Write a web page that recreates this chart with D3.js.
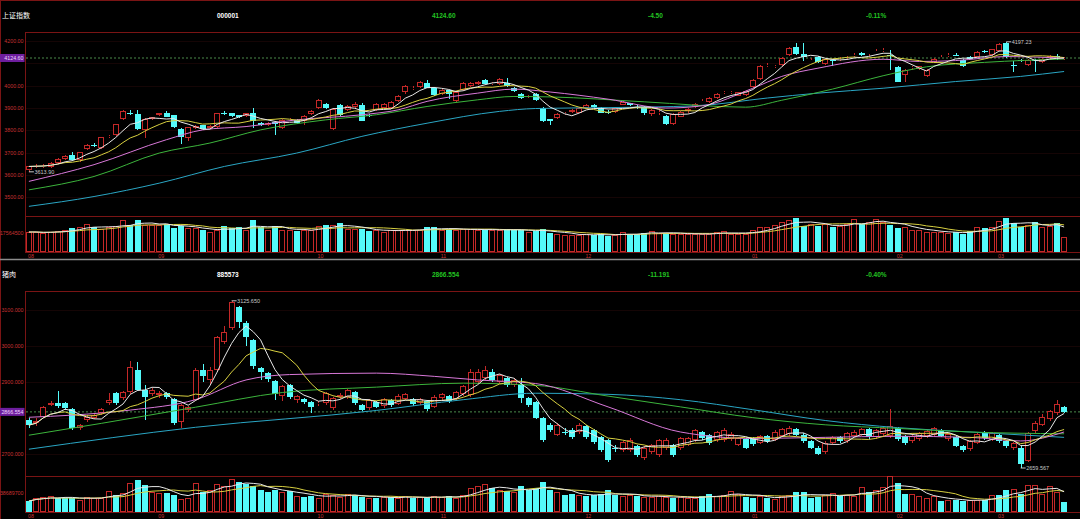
<!DOCTYPE html>
<html><head><meta charset="utf-8">
<script src="https://cdn.jsdelivr.net/npm/d3@7"></script>
<style>body{margin:0;background:#000}svg{display:block}</style>
</head><body>
<svg id="c" width="1080" height="519"></svg>
<script>
// ---------- header texts ----------
const topInfo = ["上证指数", "000001", "4124.60", "-4.50", "-0.11%"];
const botInfo = ["猪肉", "885573", "2866.554", "-11.191", "-0.40%"];
// ---------- month axis ----------
const monthLabels = ["08", "09", "10", "11", "12", "01", "02", "03"];
const monthStarts = [0, 18, 40, 57, 77, 100, 120, 134];
// ---------- price ticks ----------
const topTicks = [3500, 3600, 3700, 3800, 3900, 4000, 4100, 4200];
const botTicks = [2700, 2800, 2900, 3000, 3100];
const topVolTick = 17564500;
const botVolTick = 38689700;

// ---------- 上证指数 OHLC [open, high, low, close] ----------
const topOHLC = [
[3623,3640,3613.9,3638],[3638,3648,3630,3640],[3640,3650,3632,3642],[3635,3658,3630,3653],[3653,3675,3648,3671],
[3671,3690,3666,3687],[3690,3705,3664,3668],[3665,3703,3660,3701],[3716,3740,3712,3735],[3736,3745,3725,3734],
[3720,3772,3715,3770],[3770,3780,3765,3773],[3779,3830,3776,3828],[3850,3890,3845,3888],[3878,3890,3868,3876],
[3873,3891,3800,3806],[3800,3855,3765,3850],[3850,3862,3846,3859],[3870,3880,3866,3877],[3880,3885,3858,3862],
[3867,3870,3812,3817],[3808,3812,3740,3770],[3765,3815,3750,3813],[3810,3822,3805,3818],[3822,3826,3802,3808],
[3812,3825,3808,3818],[3817,3880,3812,3877],[3878,3885,3870,3876],[3877,3880,3862,3865],[3867,3870,3855,3862],
[3865,3880,3860,3877],[3877,3900,3810,3840],[3832,3838,3818,3823],[3823,3836,3818,3832],[3837,3840,3780,3828],
[3810,3850,3805,3847],[3848,3856,3842,3850],[3847,3850,3828,3832],[3844,3868,3825,3865],[3874,3892,3870,3888],
[3900,3940,3898,3937],[3919,3922,3896,3900],[3805,3900,3800,3897],[3915,3920,3866,3870],[3892,3915,3888,3910],
[3904,3928,3900,3919],[3915,3922,3840,3844],[3870,3875,3862,3868],[3892,3922,3888,3919],[3900,3922,3896,3919],
[3900,3932,3896,3928],[3930,3958,3925,3955],[3970,4005,3965,4001],[3987,3998,3980,3990],[3994,4022,3990,4019],
[4012,4025,3988,3992],[3990,3993,3955,3960],[3964,3986,3960,3982],[3979,3982,3940,3964],[3930,3975,3926,3971],
[3982,4015,3978,4012],[3997,4015,3993,4012],[4007,4022,4004,4019],[4027,4030,4006,4009],[4006,4018,4002,4012],
[4009,4033,4005,4030],[4012,4035,3994,3997],[3990,3993,3970,3977],[3964,3967,3940,3945],[3948,3958,3945,3955],
[3964,3967,3933,3937],[3900,3905,3836,3840],[3850,3852,3822,3844],[3855,3878,3850,3874],[3874,3884,3868,3877],
[3882,3897,3878,3892],[3880,3904,3876,3900],[3900,3920,3896,3915],[3912,3916,3900,3905],[3900,3903,3876,3880],
[3882,3890,3872,3880],[3882,3904,3878,3900],[3915,3930,3912,3927],[3921,3924,3910,3915],[3905,3912,3896,3903],
[3904,3907,3870,3879],[3874,3895,3865,3892],[3880,3890,3868,3883],[3865,3868,3824,3828],[3828,3878,3824,3874],
[3862,3885,3858,3882],[3885,3900,3880,3897],[3904,3922,3900,3919],[3930,3940,3925,3933],[3925,3948,3922,3945],
[3945,3966,3942,3962],[3968,3978,3962,3970],[3968,3978,3962,3971],[3955,3974,3952,3970],[3960,3980,3956,3977],
[3994,4030,3990,4027],[4031,4093,4028,4090],[4092,4102,4086,4094],[4086,4095,4080,4088],[4091,4127,4088,4124],
[4139,4172,4135,4169],[4173,4191,4140,4143],[4142,4194,4109,4131],[4115,4125,4110,4117],[4131,4134,4100,4106],
[4097,4124,4094,4121],[4117,4122,4090,4115],[4118,4127,4112,4120],[4126,4134,4120,4128],[4137,4146,4130,4139],
[4149,4152,4132,4136],[4133,4142,4127,4135],[4156,4166,4150,4158],[4159,4170,4152,4161],[4140,4161,4072,4138],
[4082,4090,4015,4019],[4049,4075,4015,4072],[4078,4090,4072,4082],[4075,4090,4070,4087],[4046,4075,4040,4072],
[4106,4124,4102,4121],[4129,4138,4124,4131],[4137,4146,4130,4139],[4140,4146,4132,4138],[4116,4119,4086,4090],
[4131,4134,4118,4121],[4131,4154,4128,4151],[4155,4160,4148,4153],[4139,4167,4135,4164],[4158,4191,4155,4188],
[4191,4197.23,4125,4128],[4095,4109,4064,4093],[4117,4122,4108,4115],[4094,4119,4090,4116],[4117,4120,4060,4115],
[4106,4124,4102,4121],[4124,4137,4120,4134],[4134,4142,4116,4129.1],[4120,4128,4116,4124.6]
];
// volume (万)
const topVol = [
1849,1849,1756,1849,1941,2034,2219,2311,2589,2311,2126,2311,2404,2958,2496,2958,2496,2496,2496,2589,
2219,2404,2219,2219,2034,1849,2034,2404,2219,2311,2034,2958,2311,2034,2404,2034,2034,1941,2034,2034,
2404,2496,2496,2681,2126,2126,2126,1941,2034,1849,2034,2034,2034,2034,2034,2311,2311,2034,2126,2034,
2126,2126,2034,2034,2034,2034,2126,2034,2034,1849,1941,2126,1756,1664,1572,1572,1572,1664,1572,1664,
1479,1572,1849,1664,1664,1756,1941,1756,1756,1664,1664,1664,1664,1664,1664,1849,1941,1664,1664,1664,
2034,2311,2311,2496,2774,2958,3143,2404,2589,2404,2589,2311,2404,2589,3051,2589,2774,3051,2774,2496,
2219,2311,2034,2034,1849,1849,1849,1756,1849,1664,1941,2311,2219,2311,2866,3143,2681,2311,2496,2774,
2311,2404,2681,1387
];
// slower moving averages: [bar index, value]
const topMA20 = [[0,3571],[9,3646],[19,3758],[24,3802],[30,3817],[37,3847],[46,3870],[51,3892],[55,3930],[62,3967],[67,3985],[72,3972],[80,3940],[88,3900],[93,3910],[100,3989],[104,4042],[109,4079],[118,4119],[123,4109],[128,4113],[135,4131],[143,4124]];
const topMA60 = [[0,3533],[9,3593],[18,3698],[25,3743],[32,3802],[41,3847],[48,3870],[55,3907],[62,3937],[67,3952],[72,3950],[85,3928],[99,3904],[104,3935],[111,3985],[118,4045],[124,4085],[132,4105],[143,4120]];
const topMA120 = [[0,3459],[9,3503],[18,3563],[27,3638],[37,3698],[46,3773],[55,3832],[65,3885],[70,3898],[80,3902],[92,3910],[102,3945],[109,3967],[118,3989],[128,4019],[137,4042],[143,4064]];

// ---------- 猪肉 OHLC ----------
const botOHLC = [
[2793,2800,2770,2779],[2785,2800,2778,2790],[2801,2832,2798,2829],[2836,2845,2832,2840],[2840,2875,2828,2832],
[2840,2843,2822,2826],[2823,2826,2765,2770],[2770,2782,2765,2779],[2792,2806,2788,2801],[2798,2810,2795,2807],
[2812,2826,2808,2823],[2840,2870,2836,2849],[2868,2872,2836,2840],[2854,2874,2850,2871],[2871,2958,2866,2941],
[2932,2955,2873,2877],[2877,2891,2793,2857],[2866,2882,2860,2877],[2862,2874,2855,2868],[2868,2872,2852,2857],
[2851,2855,2780,2784],[2787,2838,2770,2835],[2821,2832,2815,2829],[2849,2938,2845,2932],[2932,2950,2900,2916],
[2905,2940,2895,2932],[2932,3028,2928,3025],[3011,3055,3005,3039],[3050,3125.65,3045,3122],[3108,3112,3050,3066],
[3064,3070,3000,3025],[3016,3020,2935,2944],[2938,2941,2905,2927],[2924,2927,2900,2907],[2902,2905,2850,2865],
[2860,2892,2845,2888],[2891,2895,2852,2857],[2849,2863,2840,2860],[2851,2855,2838,2843],[2843,2846,2812,2829],
[2838,2846,2832,2840],[2840,2872,2836,2868],[2826,2858,2820,2854],[2858,2868,2852,2863],[2857,2880,2852,2877],
[2871,2874,2836,2840],[2835,2838,2818,2821],[2826,2852,2822,2849],[2843,2846,2826,2830],[2832,2856,2828,2852],
[2849,2852,2830,2835],[2838,2866,2835,2860],[2852,2868,2848,2865],[2852,2855,2832,2838],[2840,2855,2836,2852],
[2846,2850,2818,2824],[2830,2862,2826,2858],[2855,2870,2850,2866],[2860,2864,2840,2846],[2852,2875,2848,2871],
[2866,2892,2860,2888],[2863,2935,2858,2927],[2899,2935,2895,2927],[2910,2945,2905,2932],[2927,2935,2900,2904],
[2899,2922,2895,2918],[2910,2914,2886,2891],[2891,2910,2886,2904],[2891,2910,2840,2854],[2854,2858,2830,2835],
[2843,2846,2795,2798],[2798,2801,2733,2737],[2779,2785,2760,2765],[2751,2784,2748,2779],[2761,2770,2752,2759],
[2765,2770,2740,2745],[2759,2784,2755,2779],[2776,2780,2740,2745],[2765,2768,2726,2731],[2745,2748,2705,2709],
[2737,2740,2676,2681],[2716,2725,2705,2715],[2709,2736,2705,2731],[2709,2742,2705,2737],[2720,2724,2690,2695],
[2687,2720,2683,2715],[2703,2727,2699,2723],[2695,2741,2690,2737],[2715,2742,2711,2737],[2723,2727,2690,2695],
[2715,2746,2711,2742],[2723,2747,2720,2742],[2737,2769,2733,2765],[2759,2763,2738,2742],[2751,2755,2725,2729],
[2737,2762,2733,2759],[2737,2770,2733,2765],[2740,2760,2736,2754],[2723,2746,2720,2742],[2740,2744,2712,2715],
[2742,2746,2722,2726],[2730,2752,2726,2748],[2748,2751,2730,2734],[2738,2765,2734,2760],[2750,2772,2746,2768],
[2755,2776,2750,2772],[2768,2772,2748,2752],[2752,2756,2730,2735],[2735,2738,2712,2716],[2716,2720,2695,2700],
[2705,2735,2700,2730],[2728,2750,2724,2746],[2746,2750,2730,2734],[2734,2760,2730,2756],[2750,2765,2746,2761],
[2752,2772,2748,2768],[2768,2772,2740,2745],[2745,2768,2740,2765],[2755,2775,2750,2770],[2748,2825,2744,2776],
[2770,2775,2735,2740],[2748,2752,2725,2730],[2735,2755,2730,2750],[2740,2760,2736,2756],[2748,2765,2744,2762],
[2752,2774,2748,2770],[2765,2768,2745,2750],[2740,2758,2735,2755],[2745,2748,2718,2722],[2722,2725,2705,2710],
[2712,2738,2708,2734],[2730,2758,2726,2754],[2758,2762,2738,2742],[2738,2760,2734,2756],[2752,2755,2730,2735],
[2735,2738,2715,2720],[2715,2732,2710,2728],[2716,2720,2659.567,2672],[2680,2760,2675,2756],[2762,2790,2758,2784],
[2780,2810,2776,2802],[2795,2822,2790,2818],[2812,2848,2808,2838],[2830,2832,2812,2816]
];
const botVol = [
2240,2851,3054,3258,2851,2851,2851,2444,3054,2851,2851,4276,3461,3869,5905,6516,5498,4073,3869,3869,
3461,2647,2851,5905,4073,4480,5702,5294,6720,6109,5702,5294,4480,4073,4480,4073,4276,3258,3054,3258,
2851,3665,3461,3054,3665,3461,3054,2851,2851,3054,3054,2851,3258,2851,3054,2851,3258,3054,3258,2851,
3461,4887,5294,5702,4887,4480,4276,4073,5294,4480,4887,6109,4480,4073,3461,3665,3461,3258,3461,3665,
4480,3461,3258,3461,3258,3054,3054,3258,3054,2851,3054,2851,2851,3258,3665,3258,3461,4276,3665,3054,
2851,3258,2851,2647,3258,3461,4073,4073,2851,3054,3461,3869,3258,3461,3258,5091,4073,4480,5091,7330,
5905,3665,3665,3258,2851,3258,2240,2444,2444,2240,2444,2444,2444,3461,3461,4480,4683,3665,5498,5498,
3665,5294,4073,2036
];
const botMA20 = [[0,2801],[6,2807],[14,2821],[23,2850],[30,2905],[36,2920],[48,2924],[56,2915],[62,2905],[70,2895],[80,2830],[90,2760],[100,2742],[110,2745],[120,2748],[130,2745],[137,2735],[143,2760]];
const botMA60 = [[0,2751],[10,2784],[23,2829],[35,2870],[48,2885],[60,2896],[70,2890],[80,2860],[90,2830],[100,2800],[110,2780],[120,2770],[130,2760],[143,2755]];
const botMA120 = [[0,2712],[23,2773],[48,2820],[60,2850],[70,2868],[80,2865],[90,2850],[100,2822],[110,2792],[120,2772],[130,2760],[143,2745]];

// ---------- drawing ----------
const W = 1080, H = 519, N = topOHLC.length;
const RED = "#c42828", CYAN = "#54fafa", FRAME = "#7a1414";
const FONT = "'Liberation Sans', Arial, sans-serif";
const svg = d3.select("#c");
svg.append("rect").attr("width", W).attr("height", H).attr("fill", "#000");

const x = d3.scaleBand().domain(d3.range(N)).range([26, 1067]).paddingInner(0.2);
const cx = i => x(i) + x.bandwidth() / 2;
const ma = (arr, n) => arr.map((_, i) => d3.mean(arr.slice(Math.max(0, i - n + 1), i + 1)));

svg.append("line").attr("x1", 0).attr("x2", W).attr("y1", 0.5).attr("y2", 0.5).attr("stroke", FRAME);
svg.append("line").attr("x1", 0.5).attr("x2", 0.5).attr("y1", 0).attr("y2", H).attr("stroke", FRAME);
svg.append("line").attr("x1", 0).attr("x2", W).attr("y1", 259.5).attr("y2", 259.5).attr("stroke", "#8c8c8c").attr("stroke-width", 1.5);

function panel(cfg) {
  const g = svg.append("g");
  const {ohlc, vol, info, ticks, dec, volTick, yP, yV, top, mid, bot, titleY, monthY, ma20, ma60, ma120} = cfg;
  // header
  const head = g.append("g").attr("font-family", FONT);
  head.append("text").attr("x", 2).attr("y", titleY + 3).attr("fill", "#fff")
    .attr("font-family", "'Noto Sans CJK SC', sans-serif").attr("font-size", 7).text(info[0]);
  head.append("text").attr("x", 217).attr("y", titleY + 2.5).attr("fill", "#fff").attr("font-weight", "bold")
    .attr("font-size", 6.5).text(info[1]);
  [[432, info[2]], [648, info[3]], [866, info[4]]].forEach(([xx, t]) =>
    head.append("text").attr("x", xx).attr("y", titleY + 2.5).attr("fill", "#22c322").attr("font-size", 6.5)
      .attr("font-weight", "bold").text(t));
  // frame
  const fr = g.append("g").attr("stroke", FRAME).attr("shape-rendering", "crispEdges");
  [top, mid, bot].forEach(yy => fr.append("line").attr("x1", 25).attr("x2", W).attr("y1", yy + 0.5).attr("y2", yy + 0.5));
  fr.append("line").attr("x1", 25.5).attr("x2", 25.5).attr("y1", top).attr("y2", bot);
  // faint grid
  ticks.forEach(t => g.append("line").attr("x1", 26).attr("x2", W).attr("y1", Math.round(yP(t)) + 0.5)
    .attr("y2", Math.round(yP(t)) + 0.5).attr("stroke", "#150505"));
  // last price dashed line + label
  const last = ohlc[ohlc.length - 1][3];
  const ly = yP(last);
  g.append("line").attr("x1", 26).attr("x2", W).attr("y1", ly).attr("y2", ly)
    .attr("stroke", "#4a8a4a").attr("stroke-dasharray", "2,2");
  // ticks
  const tk = g.append("g").attr("font-family", FONT).attr("font-size", 5.3)
    .attr("fill", "#c83232").attr("text-anchor", "end");
  ticks.filter(t => Math.abs(yP(t) - ly) > 8).forEach(t =>
    tk.append("text").attr("x", 23.5).attr("y", yP(t) + 2).text(t.toFixed(dec)));
  g.append("rect").attr("x", 0).attr("y", ly - 4).attr("width", 24.5).attr("height", 8).attr("fill", "#6e1e9e");
  g.append("text").attr("x", 23.5).attr("y", ly + 2).attr("text-anchor", "end").attr("fill", "#ecd8ff")
    .attr("font-family", FONT).attr("font-size", 5.3).text(info[2]);
  tk.append("text").attr("x", 23.5).attr("y", yV(volTick) + 2).text(volTick);
  // months
  monthStarts.forEach((s, k) => tk.append("text").attr("text-anchor", "start").attr("x", x(s) + 2)
    .attr("y", monthY + 2).text(monthLabels[k]));
  // candles and volume bars
  const cg = g.append("g").attr("shape-rendering", "crispEdges");
  ohlc.forEach((d, i) => {
    const [o, h, l, c] = d;
    const up = c >= o;
    const col = up ? RED : CYAN;
    const xl = Math.round(x(i)) + 0.5, w = Math.round(x.bandwidth()) - 1, xm = Math.round(cx(i)) + 0.5;
    const yt = Math.round(yP(Math.max(o, c))), yb = Math.max(yt + 1, Math.round(yP(Math.min(o, c))));
    cg.append("line").attr("x1", xm).attr("x2", xm).attr("y1", yP(h)).attr("y2", yt).attr("stroke", col);
    cg.append("line").attr("x1", xm).attr("x2", xm).attr("y1", yb).attr("y2", yP(l)).attr("stroke", col);
    if (up) cg.append("rect").attr("x", xl).attr("y", yt + 0.5).attr("width", w).attr("height", Math.max(0, yb - yt - 1))
      .attr("fill", "#000").attr("stroke", col);
    else cg.append("rect").attr("x", xl - 0.5).attr("y", yt).attr("width", w + 1).attr("height", Math.max(1, yb - yt))
      .attr("fill", col);
    const vt = Math.round(yV(vol[i]));
    if (up) cg.append("rect").attr("x", xl).attr("y", vt + 0.5).attr("width", w).attr("height", bot - vt - 1)
      .attr("fill", "#000").attr("stroke", col);
    else cg.append("rect").attr("x", xl - 0.5).attr("y", vt).attr("width", w + 1).attr("height", bot - vt).attr("fill", col);
  });
  // moving averages
  const closes = ohlc.map(d => d[3]);
  const lineIdx = d3.line().x((d, i) => cx(i)).y(d => yP(d));
  const linePts = d3.line().x(d => cx(d[0])).y(d => yP(d[1])).curve(d3.curveMonotoneX);
  const lg = g.append("g").attr("fill", "none").attr("stroke-width", 1);
  lg.append("path").attr("d", linePts(ma120)).attr("stroke", "#2aa6c4");
  lg.append("path").attr("d", linePts(ma60)).attr("stroke", "#3cb43c");
  lg.append("path").attr("d", linePts(ma20)).attr("stroke", "#d878d8");
  lg.append("path").attr("d", lineIdx(ma(closes, 10))).attr("stroke", "#d8d040");
  lg.append("path").attr("d", lineIdx(ma(closes, 5))).attr("stroke", "#e8e8e8");
  const vLine = d3.line().x((d, i) => cx(i)).y(d => yV(d));
  lg.append("path").attr("d", vLine(ma(vol, 10))).attr("stroke", "#d8d040");
  lg.append("path").attr("d", vLine(ma(vol, 5))).attr("stroke", "#e8e8e8");
  // high / low markers
  const hiI = d3.maxIndex(ohlc, d => d[1]), loI = d3.minIndex(ohlc, d => d[2]);
  const mk = g.append("g").attr("font-family", FONT).attr("font-size", 5.5).attr("fill", "#c8c8c8");
  [[hiI, ohlc[hiI][1]], [loI, ohlc[loI][2]]].forEach(([i, v]) => {
    const xx = cx(i), yy = yP(v);
    mk.append("line").attr("x1", xx).attr("x2", xx + 5).attr("y1", yy).attr("y2", yy).attr("stroke", "#c8c8c8");
    mk.append("text").attr("x", xx + 5.5).attr("y", yy + 2).text(v.toFixed(dec));
  });
}

panel({ohlc: topOHLC, vol: topVol.map(v => v * 1e4), info: topInfo, ticks: topTicks, dec: 2, volTick: topVolTick,
  yP: d3.scaleLinear().domain([3500, 4200]).range([197.2, 41.2]),
  yV: d3.scaleLinear().domain([0, topVolTick]).range([252, 233]),
  top: 32, mid: 216, bot: 252, titleY: 15, monthY: 255.5, ma20: topMA20, ma60: topMA60, ma120: topMA120});
panel({ohlc: botOHLC, vol: botVol.map(v => v * 1e4), info: botInfo, ticks: botTicks, dec: 3, volTick: botVolTick,
  yP: d3.scaleLinear().domain([2700, 3100]).range([453.5, 310]),
  yV: d3.scaleLinear().domain([0, botVolTick]).range([512, 493]),
  top: 291, mid: 476, bot: 512, titleY: 274, monthY: 516, ma20: botMA20, ma60: botMA60, ma120: botMA120});
</script>
</body></html>
